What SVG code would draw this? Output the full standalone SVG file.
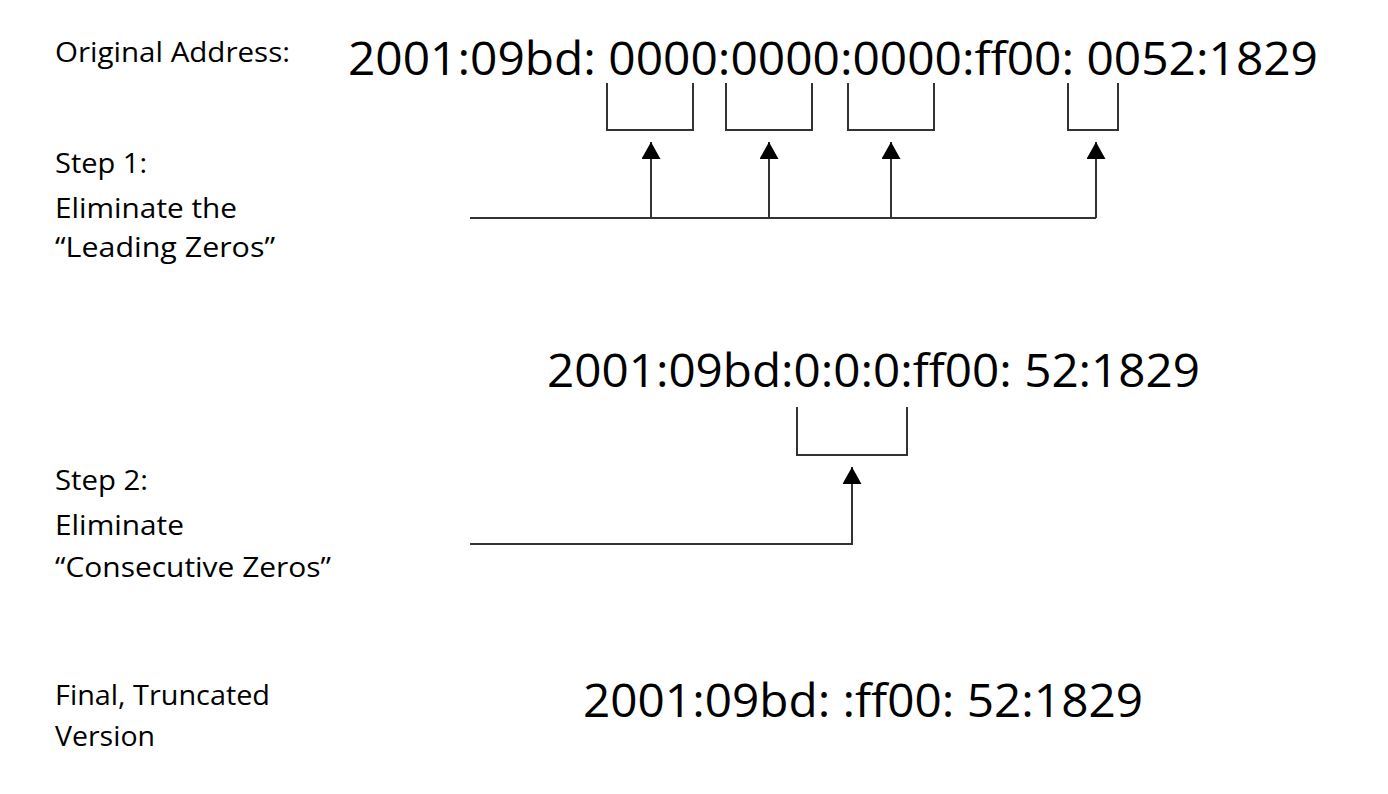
<svg xmlns="http://www.w3.org/2000/svg" width="1388" height="794" viewBox="0 0 1388 794">
<style>
.lbl{font-family:"Open Sans","Noto Sans",sans-serif;font-size:27px;fill:#000}
.addr{font-family:"Open Sans","Noto Sans",sans-serif;font-size:46px;fill:#000}
.ln{fill:none;stroke:#333;stroke-width:2}
</style>
<defs>
<marker id="ah" markerUnits="userSpaceOnUse" markerWidth="18" markerHeight="20" refX="17" refY="9.5" orient="auto" viewBox="0 0 18 20">
<path d="M0,0 L17,9.5 L0,19 Z" fill="#000"/>
</marker>
</defs>
<rect width="1388" height="794" fill="#fff"/>
<g id="labels">
<text class="lbl" x="55" y="62" textLength="235" lengthAdjust="spacingAndGlyphs">Original Address:</text>
<text class="lbl" x="55" y="173" textLength="92" lengthAdjust="spacingAndGlyphs">Step 1:</text>
<text class="lbl" x="55" y="218" textLength="182" lengthAdjust="spacingAndGlyphs">Eliminate the</text>
<text class="lbl" x="55" y="257" textLength="220" lengthAdjust="spacingAndGlyphs">“Leading Zeros”</text>
<text class="lbl" x="55" y="490" textLength="93" lengthAdjust="spacingAndGlyphs">Step 2:</text>
<text class="lbl" x="55" y="535" textLength="129" lengthAdjust="spacingAndGlyphs">Eliminate</text>
<text class="lbl" x="55" y="577" textLength="276" lengthAdjust="spacingAndGlyphs">“Consecutive Zeros”</text>
<text class="lbl" x="55" y="705" textLength="215" lengthAdjust="spacingAndGlyphs">Final, Truncated</text>
<text class="lbl" x="55" y="746" textLength="100" lengthAdjust="spacingAndGlyphs">Version</text>
</g>
<g id="original">
<text class="addr" x="348" y="75" textLength="970" lengthAdjust="spacingAndGlyphs">2001:09bd: 0000:0000:0000:ff00: 0052:1829</text>
</g>
<g id="step1">
<text class="addr" x="547" y="387" textLength="653" lengthAdjust="spacingAndGlyphs">2001:09bd:0:0:0:ff00: 52:1829</text>
</g>
<g id="final">
<text class="addr" x="583" y="717" textLength="560" lengthAdjust="spacingAndGlyphs">2001:09bd: :ff00: 52:1829</text>
</g>
<g id="connectors">
<path class="ln" d="M607,83 V130 H693 V83"/>
<path class="ln" d="M726,83 V130 H812 V83"/>
<path class="ln" d="M848,83 V130 H934 V83"/>
<path class="ln" d="M1068,83 V130 H1118 V83"/>
<path class="ln" d="M470,218 H1096"/>
<path class="ln" d="M651,218 V142" marker-end="url(#ah)"/>
<path class="ln" d="M769,218 V142" marker-end="url(#ah)"/>
<path class="ln" d="M891,218 V142" marker-end="url(#ah)"/>
<path class="ln" d="M1096,218 V142" marker-end="url(#ah)"/>
<path class="ln" d="M797,407 V455 H907 V407"/>
<path class="ln" d="M470,544 H852 V467" marker-end="url(#ah)"/>
</g>
</svg>
